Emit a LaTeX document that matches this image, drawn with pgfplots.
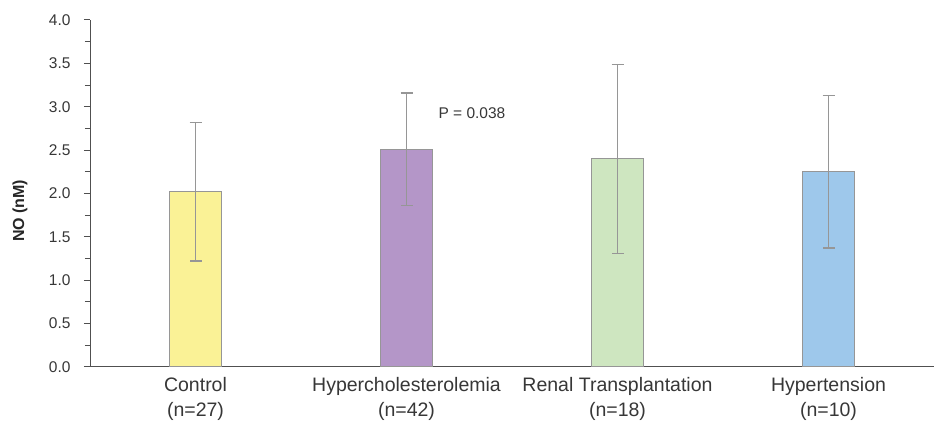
\documentclass[border=0pt]{standalone}
\usepackage{pgfplots}
\pgfplotsset{compat=1.18}
\usepackage{fontspec}
\setmainfont{Liberation Sans}
\definecolor{cyel}{RGB}{250,242,150}
\definecolor{cpur}{RGB}{180,150,200}
\definecolor{cgrn}{RGB}{206,230,192}
\definecolor{cblu}{RGB}{158,200,235}
\definecolor{edge}{RGB}{150,150,150}
\definecolor{axc}{RGB}{80,80,80}
\definecolor{txt}{RGB}{55,55,55}
\begin{document}
\begin{tikzpicture}
\begin{axis}[
  scale only axis,
  width=844pt, height=347pt,
  xmin=-0.5, xmax=3.5,
  ymin=0, ymax=4,
  axis x line*=bottom,
  axis y line*=left,
  axis line style={axc, line width=1pt},
  xtick={0,1,2,3},
  xticklabels={{Control\\(n=27)},{Hypercholesterolemia\\(n=42)},{Renal Transplantation\\(n=18)},{Hypertension\\(n=10)}},
  xticklabel style={align=center, font=\fontsize{19.5}{25}\selectfont, text=txt, yshift=-1pt},
  major x tick style={draw=none},
  extra x ticks={0.5,1.5,2.5},
  extra x tick labels={},
  extra x tick style={major tick length=6pt, tick style={draw=axc, line width=1pt}},
  ytick={0,0.5,...,4},
  minor y tick num=1,
  tick align=outside,
  major tick length=6pt,
  minor tick length=5pt,
  y tick style={draw=axc, line width=1pt},
  yticklabel style={font=\fontsize{15.5}{17}\selectfont, text=txt, xshift=-10pt,
    /pgf/number format/.cd, fixed, fixed zerofill, precision=1},
  /pgf/number format/assume math mode=true,
  ylabel={\textbf{NO (nM)}},
  ylabel style={font=\fontsize{16}{18}\selectfont, text=black!85, at={(axis description cs:-0.083,0.45)}, anchor=center},
  ybar, bar width=0.25, bar shift=0pt,
  error bars/y dir=both, error bars/y explicit,
  error bars/error bar style={draw=edge, line width=1.4pt},
  error bars/error mark options={rotate=90, draw=edge, mark size=6pt, line width=1.4pt},
  clip=false,
]
\addplot[fill=cyel, draw=edge, line width=1pt] coordinates {(0,2.02) +- (0,0.80)};
\addplot[fill=cpur, draw=edge, line width=1pt] coordinates {(1,2.51) +- (0,0.65)};
\addplot[fill=cgrn, draw=edge, line width=1pt] coordinates {(2,2.40) +- (0,1.09)};
\addplot[fill=cblu, draw=edge, line width=1pt] coordinates {(3,2.25) +- (0,0.88)};
\node[font=\fontsize{15.5}{17}\selectfont, text=txt] at (axis cs:1.31,2.93) {P = 0.038};
\end{axis}
\path ([xshift=-90pt,yshift=-70pt]current axis.south west) rectangle ([xshift=6pt,yshift=20pt]current axis.north east);
\end{tikzpicture}
\end{document}
